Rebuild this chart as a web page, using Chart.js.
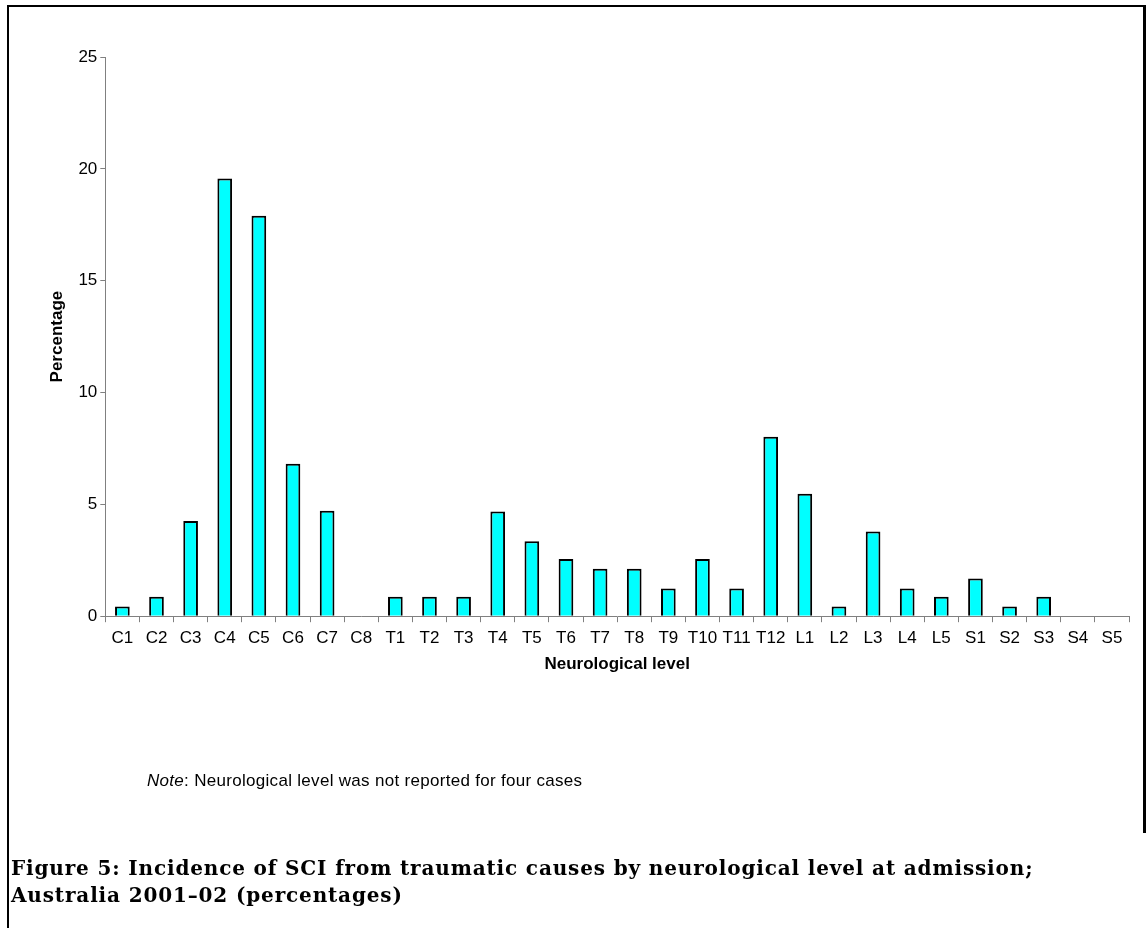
<!DOCTYPE html>
<html>
<head>
<meta charset="utf-8">
<script src="https://cdn.jsdelivr.net/npm/chart.js@4"></script>
<style>
  html, body { margin: 0; padding: 0; background: #fff; }
  #page { position: relative; width: 1146px; height: 928px; overflow: hidden; }
  #frame { position: absolute; left: 7px; top: 5px; width: 1200px; height: 1000px;
           border-left: 2.5px solid #000; border-top: 2.5px solid #000; }
  #rightLine { position: absolute; left: 1143px; top: 5px; width: 3px; height: 828px; background: #000; }
  #chartCanvas { position: absolute; left: 0; top: 0; }
  #note { position: absolute; left: 147px; top: 771px; font: 17px "Liberation Sans", Arial, sans-serif;
          letter-spacing: 0.3px; color: #000; }
  #caption { position: absolute; left: 11px; top: 855px; font: bold 20px "DejaVu Serif", serif;
             letter-spacing: 0.85px; line-height: 27px; color: #000; white-space: nowrap; }
</style>
</head>
<body>
<div id="page">
  <div id="frame"></div>
  <div id="rightLine"></div>
  <canvas id="chartCanvas" width="1146" height="928"></canvas>
  <div id="note"><i>Note</i>: Neurological level was not reported for four cases</div>
  <div id="caption">Figure 5: Incidence of SCI from traumatic causes by neurological level at admission;<br>Australia 2001–02 (percentages)</div>
</div>
<script>
// neurological levels
const levels = ['C1', 'C2', 'C3', 'C4', 'C5', 'C6', 'C7', 'C8',
  'T1', 'T2', 'T3', 'T4', 'T5', 'T6', 'T7', 'T8', 'T9', 'T10', 'T11', 'T12',
  'L1', 'L2', 'L3', 'L4', 'L5', 'S1', 'S2', 'S3', 'S4', 'S5'];

// percentage of cases
const percentages = [0.43, 0.87, 4.26, 19.57, 17.9, 6.82, 4.71, 0,
  0.87, 0.87, 0.87, 4.68, 3.35, 2.56, 2.12, 2.12, 1.24, 2.56, 1.24, 8.02,
  5.47, 0.43, 3.79, 1.24, 0.87, 1.68, 0.43, 0.87, 0, 0];

const yTicks = [0, 5, 10, 15, 20, 25];

const axisFont = { family: '"Liberation Sans", Arial, sans-serif', size: 17 };
const titleFont = { family: '"Liberation Sans", Arial, sans-serif', size: 17, weight: 'bold' };

let ctx = document.getElementById('chartCanvas').getContext('2d');
new Chart(ctx, {
  type: 'bar',
  data: {
    labels: levels,
    datasets: [{
      data: percentages,
      backgroundColor: '#00FFFF',
      borderColor: '#000000',
      borderWidth: 2,
      borderSkipped: 'start',
      categoryPercentage: 1.0,
      barPercentage: 0.43
    }]
  },
  options: {
    responsive: false,
    animation: false,
    layout: {
      padding: { top: 57, left: 47, right: 17, bottom: 253 }
    },
    plugins: {
      legend: { display: false },
      tooltip: { enabled: false }
    },
    scales: {
      x: {
        offset: true,
        grid: {
          offset: true,
          drawOnChartArea: false,
          drawTicks: true,
          tickLength: 6,
          color: '#808080'
        },
        border: { color: '#808080', width: 1 },
        ticks: {
          color: '#000',
          font: axisFont,
          autoSkip: false,
          maxRotation: 0,
          padding: 6
        },
        title: {
          display: true,
          text: 'Neurological level',
          color: '#000',
          font: titleFont,
          padding: { top: 0, bottom: 0 }
        }
      },
      y: {
        min: 0,
        max: 25,
        afterBuildTicks: (axis) => { axis.ticks = yTicks.map(v => ({ value: v })); },
        grid: {
          drawOnChartArea: false,
          drawTicks: true,
          tickLength: 5,
          color: '#808080'
        },
        border: { color: '#808080', width: 1 },
        ticks: {
          color: '#000',
          font: axisFont,
          padding: 3
        },
        title: {
          display: true,
          text: 'Percentage',
          color: '#000',
          font: titleFont,
          padding: { top: 0, bottom: 8 }
        }
      }
    }
  }
});
</script>
</body>
</html>
